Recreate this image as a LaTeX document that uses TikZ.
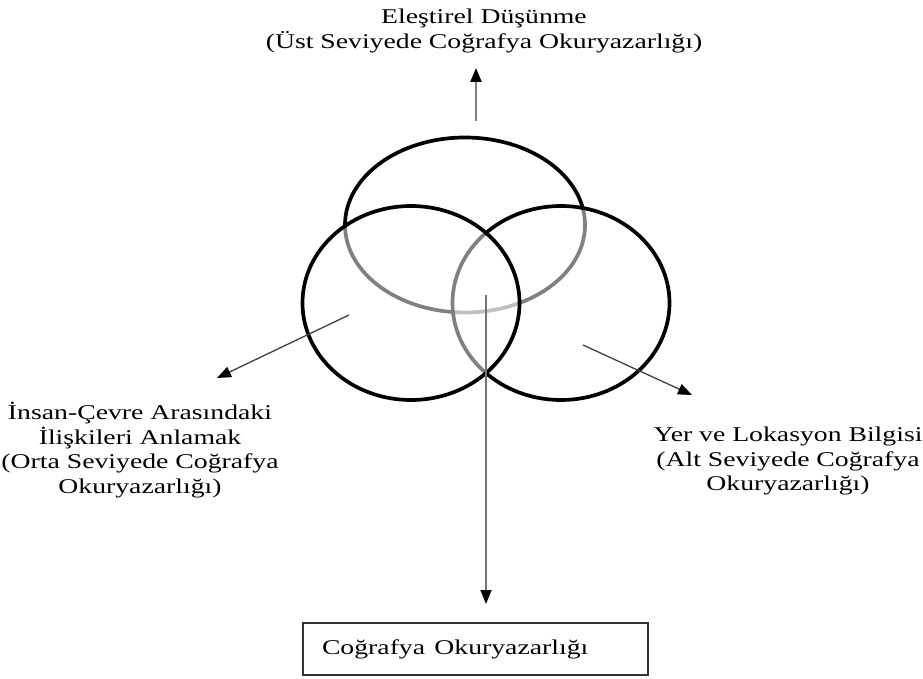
\documentclass[tikz,border=0pt]{standalone}
\usepackage{fontspec}
\setmainfont{Liberation Serif}
\usepackage{graphicx}
\usetikzlibrary{shapes.geometric}
\usetikzlibrary{arrows.meta}

\tikzset{
    halka/.style={draw,ellipse,line width=3.7pt,inner sep=0pt,fill=white,fill opacity=0.5},
    etiket/.style={align=center,xscale=1.32,font=\fontsize{21}{24.5}\selectfont},
    ok/.style={-{Triangle[length=14pt,width=11pt,color=black]},line width=1.3pt,draw=black!75}
}

\begin{document}
\begin{tikzpicture}[x=1pt,y=-1pt]
            \useasboundingbox (0,0) rectangle (923,679);

            \node[halka,fill opacity=0,minimum width=240pt,minimum height=175pt] (cTop) at (465,225) {};
            \node[halka,minimum width=217pt,minimum height=194pt] (cRight) at (561,303) {};
            \node[halka,minimum width=217pt,minimum height=194pt] (cLeft) at (411,303) {};

            \node[etiket] (tTop) at (484,31) {Eleştirel Düşünme\\(Üst Seviyede Coğrafya Okuryazarlığı)};
            \node[etiket] (tLeft) at (140,450) {İnsan-Çevre Arasındaki\\İlişkileri Anlamak\\(Orta Seviyede Coğrafya\\Okuryazarlığı)};
            \node[etiket] (tRight) at (788,461) {Yer ve Lokasyon Bilgisi\\(Alt Seviyede Coğrafya\\Okuryazarlığı)};
            \node[draw=black!80,line width=1.5pt,minimum height=52pt,text width=307pt,inner xsep=19pt,inner ysep=0pt,align=left,
                  font=\fontsize{21}{24.5}\selectfont] (kutu) at (475.5,649) {\scalebox{1.32}[1]{Coğrafya Okuryazarlığı}};

            \coordinate (upS) at (476,121);
            \coordinate (upT) at (476,68);
            \coordinate (lS) at (349,315);
            \coordinate (lT) at (217,378);
            \coordinate (rS) at (583,345);
            \coordinate (rT) at (692,395);
            \coordinate (dS) at (486,295);
            \coordinate (dT) at (486,604);

            \draw[ok,line width=2.5pt,draw=black!50] (upS) -- (upT);
            \draw[ok] (lS) -- (lT);
            \draw[ok] (rS) -- (rT);
            \draw[ok,line width=1.8pt,draw=black!55] (dS) -- (dT);
        \end{tikzpicture}
\end{document}
